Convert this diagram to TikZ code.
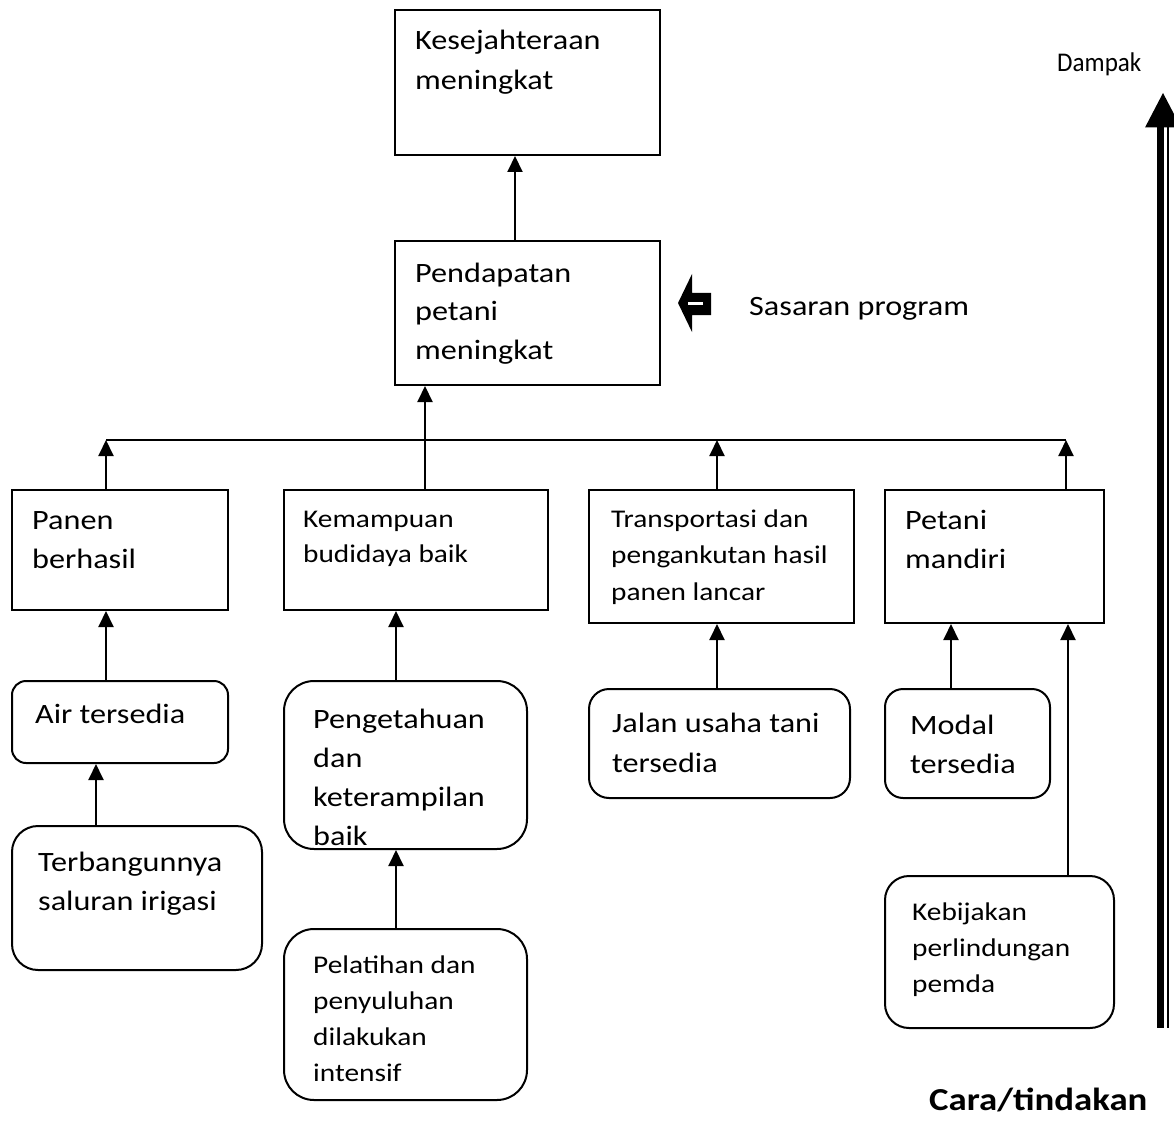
\documentclass[tikz,border=0pt]{standalone}
\usepackage{fontspec}
\setmainfont{Carlito}[FakeStretch=1.15]
\newfontfamily\narrowfont{Carlito}[FakeStretch=0.93]
\usetikzlibrary{arrows.meta}

\tikzset{
  box/.style={draw, line width=2pt, rectangle, inner sep=0pt, anchor=north west},
  rbox/.style={box, rounded corners=#1},
  rbox/.default=20pt,
  % multi-line labels are anchored at the baseline of their last line
  big/.style={inner sep=0pt, anchor=base west, align=left,
    font=\fontsize{28}{38.5}\selectfont},
  small/.style={inner sep=0pt, anchor=base west, align=left,
    font=\fontsize{25.5}{36}\selectfont},
  arr/.style={line width=2pt, -{Triangle[length=16pt,width=15pt]}},
  plain/.style={line width=2pt},
}

\begin{document}
\begin{tikzpicture}[x=1pt, y=-1pt]
\useasboundingbox (0,0) rectangle (1174,1139);

% ---- boxes ----
\node[box, minimum width=265pt, minimum height=145pt] (k1) at (394,9) {};
\node[box, minimum width=265pt, minimum height=144pt] (k2) at (394,240) {};
\node[box, minimum width=216pt, minimum height=120pt] (p1) at (11,489) {};
\node[box, minimum width=264pt, minimum height=120pt] (p2) at (283,489) {};
\node[box, minimum width=265pt, minimum height=133pt] (p3) at (588,489) {};
\node[box, minimum width=219pt, minimum height=133pt] (p4) at (884,489) {};
\node[rbox=14pt, minimum width=216pt, minimum height=82pt] (a1) at (11,680) {};
\node[rbox=26pt, minimum width=250pt, minimum height=144pt] (a2) at (11,825) {};
\node[rbox=30pt, minimum width=243pt, minimum height=168pt] (b1) at (283,680) {};
\node[rbox=30pt, minimum width=243pt, minimum height=171pt] (b2) at (283,928) {};
\node[rbox=20pt, minimum width=261pt, minimum height=109pt] (c1) at (588,688) {};
\node[rbox=18pt, minimum width=165pt, minimum height=109pt] (d1) at (884,688) {};
\node[rbox=24pt, minimum width=229pt, minimum height=152pt] (d2) at (884,875) {};

% ---- texts ----
\node[big, font=\fontsize{28}{40}\selectfont] (tk1) at (415,90) {Kesejahteraan\\meningkat};
\node[big] (tk2) at (415,359) {Pendapatan\\petani\\meningkat};
\node[big] (tp1) at (32,568) {Panen\\berhasil};
\node[small, font=\fontsize{25.5}{35}\selectfont] (tp2) at (303,562) {Kemampuan\\budidaya baik};
\node[small, font=\fontsize{25.5}{36.5}\selectfont] (tp3) at (611,600) {Transportasi dan\\pengankutan hasil\\panen lancar};
\node[big] (tp4) at (905,568) {Petani\\mandiri};
\node[big] (ta1) at (35,723) {Air tersedia};
\node[big] (ta2) at (38,910) {Terbangunnya\\saluran irigasi};
\node[big, font=\fontsize{28}{39}\selectfont] (tb1) at (313,845) {Pengetahuan\\dan\\keterampilan\\baik};
\node[small, font=\fontsize{25.5}{35.7}\selectfont] (tb2) at (313,1081) {Pelatihan dan\\penyuluhan\\dilakukan\\intensif};
\node[big, font=\fontsize{28}{40}\selectfont] (tc1) at (612,772) {Jalan usaha tani\\tersedia};
\node[big] (td1) at (910,773) {Modal\\tersedia};
\node[small] (td2) at (912,992) {Kebijakan\\perlindungan\\pemda};
\node[big] (sas) at (749,316) {Sasaran program};
\node[inner sep=0pt, anchor=base west, font=\narrowfont\fontsize{27}{30}\selectfont] (dmp) at (1057,72) {Dampak};
\node[inner sep=0pt, anchor=base west, font=\fontsize{32}{34}\selectfont\bfseries] (cara) at (929,1110) {Cara/tindakan};

% ---- connector columns ----
\coordinate (xk) at (515,0);
\coordinate (xm) at (425,0);
\coordinate (busL) at (106,440);
\coordinate (busR) at (1066,440);
\coordinate (xp3) at (717,0);
\coordinate (xa2) at (96,0);
\coordinate (xb) at (396,0);
\coordinate (xd1) at (951,0);
\coordinate (xd2) at (1068,0);

% ---- connectors ----
\draw[arr] (k2.north -| xk) -- (k1.south -| xk);
\draw[plain] (busL) -- (busR);
\draw[arr] (p2.north -| xm) -- (k2.south -| xm);
\draw[arr] (p1.north -| busL) -- (busL);
\draw[arr] (p3.north -| xp3) -- (busL -| xp3);
\draw[arr] (p4.north -| busR) -- (busR);
\draw[arr] (a1.north -| busL) -- (p1.south -| busL);
\draw[arr] (a2.north -| xa2) -- (a1.south -| xa2);
\draw[arr] (b1.north -| xb) -- (p2.south -| xb);
\draw[arr] (b2.north -| xb) -- (b1.south -| xb);
\draw[arr] (c1.north -| xp3) -- (p3.south -| xp3);
\draw[arr] (d1.north -| xd1) -- (p4.south -| xd1);
\draw[arr] (d2.north -| xd2) -- (p4.south -| xd2);

% ---- block arrow pointing at the target box ----
\fill (692,274) -- (678,303) -- (692,332) -- (692,315) -- (711,315)
      -- (711,293) -- (692,293) -- cycle;
\fill[white] (688,302) rectangle (703,305.5);

% ---- double arrow from actions up to impact ----
\fill (1157,1028) rectangle (1164,127);
\fill (1166.5,1028) rectangle (1168.5,127);
\fill (1163,93) -- (1145,127.5) -- (1181,127.5) -- cycle;
\end{tikzpicture}
\end{document}
